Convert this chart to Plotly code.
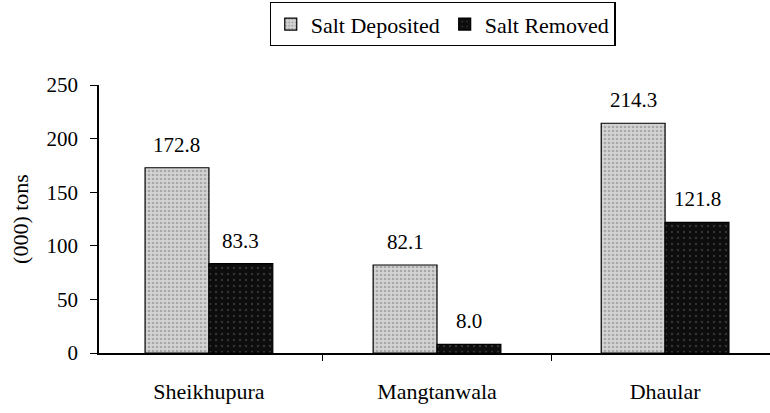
import plotly.graph_objects as go

categories = ["Sheikhupura", "Mangtanwala", "Dhaular"]
salt_deposited = [172.8, 82.1, 214.3]
salt_removed = [83.3, 8.0, 121.8]
series_names = ["Salt Deposited", "Salt Removed"]
y_ticks = [0, 50, 100, 150, 200, 250]

FONT = "'Liberation Serif', 'Times New Roman', 'DejaVu Serif', serif"

fig = go.Figure()
fig.add_trace(go.Bar(
    name=series_names[0], x=categories, y=salt_deposited,
    marker=dict(color="#cfcfcf", line=dict(color="black", width=1.2),
                pattern=dict(shape=".", fgcolor="#7a7a7a", bgcolor="#d4d4d4", size=4, solidity=0.35)),
))
fig.add_trace(go.Bar(
    name=series_names[1], x=categories, y=salt_removed,
    marker=dict(color="#111111", line=dict(color="black", width=1.2),
                pattern=dict(shape=".", fgcolor="#5a5a5a", bgcolor="#0d0d0d", size=6, solidity=0.12)),
))

annotations = []
for vals, shift in [(salt_deposited, -32), (salt_removed, 32)]:
    for c, v in zip(categories, vals):
        annotations.append(dict(x=c, y=v, text=f"{v:.1f}", showarrow=False,
                                xshift=shift, yshift=9, yanchor="bottom",
                                font=dict(family=FONT, size=21, color="black")))

fig.update_layout(
    width=770, height=413,
    margin=dict(l=99, r=0, t=85, b=60),
    paper_bgcolor="white", plot_bgcolor="white",
    barmode="group", bargap=0.44, bargroupgap=0,
    font=dict(family=FONT, size=21, color="black"),
    annotations=annotations,
    showlegend=True,
    legend=dict(orientation="h", x=0.512, xanchor="center", y=0.995, yanchor="top",
                yref="container", bordercolor="black", borderwidth=1.2,
                font=dict(family=FONT, size=22, color="black"),
                itemwidth=30, tracegroupgap=0),
    xaxis=dict(range=[-0.482, 2.46], showline=True, linecolor="black", linewidth=1.5,
               ticks="outside", tickson="boundaries", ticklen=6, tickcolor="black",
               showgrid=False, ticklabelstandoff=18,
               tickfont=dict(family=FONT, size=22)),
    yaxis=dict(range=[0, 250], tickvals=y_ticks, showline=True, linecolor="black",
               linewidth=1.5, ticks="outside", ticklen=7, tickcolor="black",
               showgrid=False, zeroline=False, ticklabelstandoff=8,
               tickfont=dict(family=FONT, size=21),
               title=dict(text="(000) tons", font=dict(family=FONT, size=22), standoff=12)),
)

fig.write_html("out.html", config={"displayModeBar": False},
               post_script="document.body.style.margin='0';")
